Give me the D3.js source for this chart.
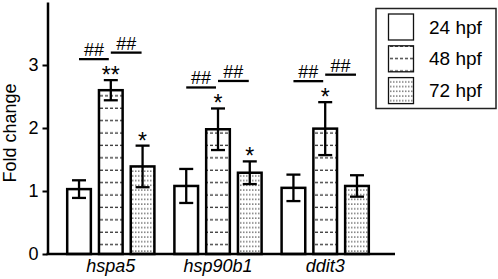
<!DOCTYPE html>
<html>
<head>
<meta charset="utf-8">
<script src="https://cdn.jsdelivr.net/npm/d3@7"></script>
<style>
  html, body { margin: 0; padding: 0; background: #fff; }
  svg { display: block; font-family: "Liberation Sans", Arial, sans-serif; }
</style>
</head>
<body>
<div id="chart"></div>
<script>
// ---- Data ----
const genes = ["hspa5", "hsp90b1", "ddit3"];
const stages = ["24 hpf", "48 hpf", "72 hpf"];
const mean24 = [1.03, 1.08, 1.05];
const mean48 = [2.60, 1.98, 1.99];
const mean72 = [1.39, 1.29, 1.08];
const err24 = [0.14, 0.27, 0.21];
const err48 = [0.16, 0.33, 0.42];
const err72 = [0.33, 0.18, 0.17];
const stars24 = ["", "", ""];
const stars48 = ["**", "*", "*"];
const stars72 = ["*", "*", ""];
const yTicks = [0, 1, 2, 3];

const W = 498, H = 279;
const svg = d3.select("#chart").append("svg")
  .attr("width", W).attr("height", H);

// ---- Patterns ----
const defs = svg.append("defs");
const pDash = defs.append("pattern").attr("id", "p48")
  .attr("patternUnits", "userSpaceOnUse").attr("width", 5).attr("height", 12.4)
  .attr("y", 3);
pDash.append("rect").attr("width", 5).attr("height", 12.4).attr("fill", "#fff");
pDash.append("line").attr("x1", 0).attr("x2", 3).attr("y1", 6).attr("y2", 6)
  .attr("stroke", "#222").attr("stroke-width", 1.2);

const pDot = defs.append("pattern").attr("id", "p72")
  .attr("patternUnits", "userSpaceOnUse").attr("width", 3).attr("height", 4.7);
pDot.append("rect").attr("width", 3).attr("height", 4.7).attr("fill", "#fff");
pDot.append("line").attr("x1", 0).attr("x2", 1.5).attr("y1", 2).attr("y2", 2)
  .attr("stroke", "#555").attr("stroke-width", 1);

const fills = { "24 hpf": "#fff", "48 hpf": "url(#p48)", "72 hpf": "url(#p72)" };

// ---- Scales ----
const y = d3.scaleLinear().domain([0, 4]).range([254, 2]);
const x0 = d3.scaleBand().domain(genes).range([57.2, 378.8]);
const x1 = d3.scaleBand().domain(stages).range([-44.8, 44.8]).paddingInner(0.18);

const rows = [];
genes.forEach((g, i) => {
  [[mean24, err24, stars24], [mean48, err48, stars48], [mean72, err72, stars72]]
    .forEach(([m, e, s], j) => rows.push({ gene: g, stage: stages[j], mean: m[i], err: e[i], star: s[i] }));
});
const cx = d => x0(d.gene) + x0.bandwidth() / 2 + x1(d.stage) + x1.bandwidth() / 2;

// ---- Bars ----
svg.append("g").selectAll("rect").data(rows).join("rect")
  .attr("x", d => cx(d) - x1.bandwidth() / 2 + 1.2)
  .attr("width", x1.bandwidth() - 2.4)
  .attr("y", d => y(d.mean))
  .attr("height", d => y(0) - y(d.mean))
  .attr("fill", d => fills[d.stage])
  .attr("stroke", "#000").attr("stroke-width", 2.5);

// ---- Error bars ----
const eb = svg.append("g").attr("stroke", "#000").attr("stroke-width", 2.3);
eb.selectAll("line.v").data(rows).join("line").attr("class", "v")
  .attr("x1", cx).attr("x2", cx)
  .attr("y1", d => y(d.mean + d.err)).attr("y2", d => y(d.mean - d.err));
eb.selectAll("line.t").data(rows).join("line").attr("class", "t")
  .attr("x1", d => cx(d) - 7).attr("x2", d => cx(d) + 7)
  .attr("y1", d => y(d.mean + d.err)).attr("y2", d => y(d.mean + d.err));
eb.selectAll("line.b").data(rows).join("line").attr("class", "b")
  .attr("x1", d => cx(d) - 7).attr("x2", d => cx(d) + 7)
  .attr("y1", d => y(d.mean - d.err)).attr("y2", d => y(d.mean - d.err));

// ---- Asterisks ----
svg.append("g").selectAll("text").data(rows.filter(d => d.star)).join("text")
  .attr("x", cx).attr("y", d => y(d.mean + d.err) + 3)
  .attr("text-anchor", "middle").style("font-size", "23px")
  .text(d => d.star);

// ---- ## brackets (24 vs 48, 48 vs 72) ----
const hashG = svg.append("g");
genes.forEach((g, i) => {
  const c = s => x0(g) + x0.bandwidth() / 2 + x1(s) + x1.bandwidth() / 2;
  const top48 = y(mean48[i] + err48[i]);
  const segs = [
    { a: c("24 hpf"), b: c("48 hpf") - 2, yy: top48 - 21 },
    { a: c("48 hpf"), b: c("72 hpf") - 1, yy: top48 - 27.5 }
  ];
  segs.forEach(s => {
    hashG.append("line").attr("x1", s.a).attr("x2", s.b)
      .attr("y1", s.yy).attr("y2", s.yy)
      .attr("stroke", "#000").attr("stroke-width", 2.3);
    hashG.append("text").attr("x", (s.a + s.b) / 2).attr("y", s.yy - 3)
      .attr("text-anchor", "middle").style("font-size", "18px").text("##");
  });
});

// ---- Axes ----
const yAxis = svg.append("g").attr("transform", "translate(47.5,0)")
  .call(d3.axisLeft(y).tickValues(yTicks).tickFormat(d3.format("d"))
    .tickSize(5).tickSizeOuter(0).tickPadding(4));
yAxis.select(".domain").attr("stroke-width", 2.5);
yAxis.selectAll(".tick line").attr("stroke-width", 2);
yAxis.selectAll("text").style("font-size", "18px")
  .style("font-family", "'Liberation Sans', Arial, sans-serif").attr("fill", "#000");

svg.append("line").attr("x1", 46.5).attr("x2", 395).attr("y1", y(0)).attr("y2", y(0))
  .attr("stroke", "#000").attr("stroke-width", 2.5);

svg.append("g").selectAll("text").data(genes).join("text")
  .attr("x", d => x0(d) + x0.bandwidth() / 2).attr("y", 272)
  .attr("text-anchor", "middle").style("font-size", "18px").style("font-style", "italic")
  .text(d => d);

svg.append("text").attr("transform", `translate(16,${(y(0) + y(4)) / 2 + 5}) rotate(-90)`)
  .attr("text-anchor", "middle").style("font-size", "18px").text("Fold change");

// ---- Legend ----
const lg = svg.append("g");
lg.append("rect").attr("x", 376).attr("y", 8.5).attr("width", 120).attr("height", 100)
  .attr("fill", "#fff").attr("stroke", "#222").attr("stroke-width", 1.5);
stages.forEach((s, i) => {
  const yy = 14 + i * 31.8;
  lg.append("rect").attr("x", 388.5).attr("y", yy).attr("width", 25).attr("height", 26)
    .attr("fill", fills[s]).attr("stroke", "#111").attr("stroke-width", 1.3);
  lg.append("text").attr("x", 429).attr("y", yy + 19.5)
    .style("font-size", "19px").text(s);
});
</script>
</body>
</html>
